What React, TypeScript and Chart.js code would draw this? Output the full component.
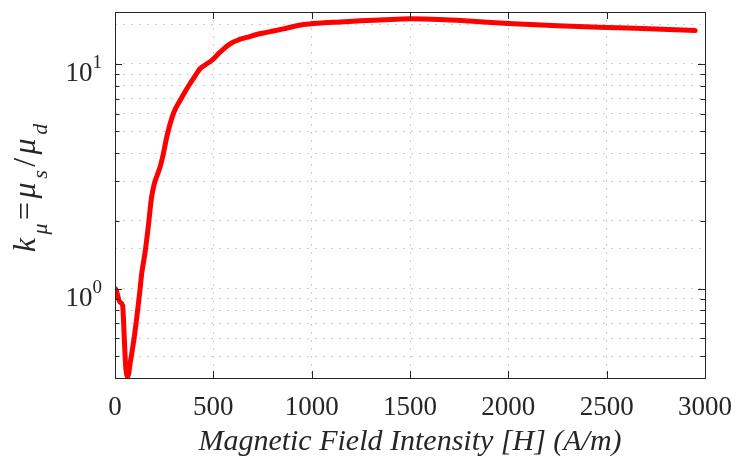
import React, { useEffect, useRef } from 'react';
import { Chart, registerables } from 'chart.js';

Chart.register(...registerables);

// Magnetic field intensity H [A/m]
const hValues = [
  0, 5, 25, 39, 44, 48, 53, 58, 64, 70, 76, 83, 97, 107, 115, 125, 136, 152, 169, 186,
  200, 215, 229, 246, 263, 280, 300, 331, 360, 381, 410, 432, 460, 492, 534, 585, 630,
  670, 720, 771, 856, 958, 1050, 1144, 1250, 1364, 1500, 1650, 1800, 2000, 2250, 2500,
  2750, 2950,
];
// k_mu = mu_s / mu_d
const kValues = [
  1.0, 0.99, 0.87, 0.84, 0.7, 0.58, 0.47, 0.42, 0.405, 0.42, 0.46, 0.5, 0.6, 0.7, 0.8,
  0.95, 1.17, 1.43, 1.88, 2.55, 2.93, 3.2, 3.47, 3.98, 4.72, 5.4, 6.1, 6.87, 7.6, 8.15,
  8.9, 9.5, 9.9, 10.35, 11.26, 12.27, 12.8, 13.1, 13.5, 13.8, 14.3, 14.95, 15.2, 15.35,
  15.55, 15.7, 15.85, 15.75, 15.5, 15.1, 14.75, 14.5, 14.3, 14.05,
];
const xTickValues = [0, 500, 1000, 1500, 2000, 2500, 3000];
const yMajorTicks = [1, 10];
const yTickExponents = ['0', '1'];
const xTitle = 'Magnetic Field Intensity [H] (A/m)';
const yTitleParts = [
  { t: 'k', sub: false, it: true },
  { t: 'μ', sub: true, it: true },
  { t: '=', sub: false, it: false },
  { t: 'μ', sub: false, it: true },
  { t: 's', sub: true, it: true },
  { t: '/', sub: false, it: false },
  { t: 'μ', sub: false, it: true },
  { t: 'd', sub: true, it: true },
];

const FONT = "'Liberation Serif', 'Times New Roman', serif";
const INK = '#262626';

export default function App() {
  const ref = useRef<HTMLCanvasElement>(null);

  useEffect(() => {
    const canvas = ref.current;
    if (!canvas) return;

    const decor = {
      id: 'decor',
      afterDraw(chart: any) {
        const { ctx, chartArea: a, scales } = chart;
        const xs = scales.x;
        const ys = scales.y;
        ctx.save();
        ctx.strokeStyle = INK;
        ctx.lineWidth = 1;
        ctx.setLineDash([]);
        ctx.beginPath();
        xs.ticks.forEach((t: any) => {
          const px = Math.round(xs.getPixelForValue(t.value)) + 0.5;
          ctx.moveTo(px, a.bottom);
          ctx.lineTo(px, a.bottom - 7);
          ctx.moveTo(px, a.top);
          ctx.lineTo(px, a.top + 7);
        });
        ys.ticks.forEach((t: any) => {
          const v = t.value;
          const e = Math.floor(Math.log10(v) + 1e-9);
          const m = v / Math.pow(10, e);
          if (Math.abs(m - Math.round(m)) > 1e-6) return;
          const len = Math.round(m) === 1 ? 7 : 4.5;
          const py = Math.round(ys.getPixelForValue(v)) + 0.5;
          ctx.moveTo(a.left, py);
          ctx.lineTo(a.left + len, py);
          ctx.moveTo(a.right, py);
          ctx.lineTo(a.right - len, py);
        });
        ctx.stroke();
        ctx.strokeRect(Math.round(a.left) + 0.5, Math.round(a.top) + 0.5,
          Math.round(a.right - a.left), Math.round(a.bottom - a.top));

        // y tick labels 10^n
        ctx.fillStyle = INK;
        ctx.textBaseline = 'alphabetic';
        ctx.textAlign = 'left';
        const baseFont = `27px ${FONT}`;
        const supFont = `19px ${FONT}`;
        yMajorTicks.forEach((v, i) => {
          const py = ys.getPixelForValue(v);
          ctx.font = supFont;
          const sw = ctx.measureText(yTickExponents[i]).width;
          ctx.font = baseFont;
          const bw = ctx.measureText('10').width;
          const right = a.left - 13;
          ctx.fillText('10', right - sw - bw, py + 17);
          ctx.font = supFont;
          ctx.fillText(yTickExponents[i], right - sw, py + 4.5);
        });

        // x title
        ctx.font = `italic 30px ${FONT}`;
        ctx.textAlign = 'center';
        ctx.fillText(xTitle, (a.left + a.right) / 2, 450);

        // y title (rotated, with subscripts)
        ctx.save();
        ctx.translate(35, 188);
        ctx.rotate(-Math.PI / 2);
        ctx.textAlign = 'left';
        const gap = 3.5;
        const fontOf = (p: any) => `${p.it ? 'italic ' : ''}${p.sub ? 22 : 32}px ${FONT}`;
        let total = 0;
        yTitleParts.forEach((p, i) => {
          ctx.font = fontOf(p);
          total += ctx.measureText(p.t).width + (i > 0 ? gap : 0);
        });
        let cx = -total / 2;
        yTitleParts.forEach((p) => {
          ctx.font = fontOf(p);
          ctx.fillText(p.t, cx, p.sub ? 12 : 0);
          cx += ctx.measureText(p.t).width + gap;
        });
        ctx.restore();
        ctx.restore();
      },
    };

    const chart = new Chart(canvas, {
      type: 'line',
      data: {
        datasets: [
          {
            data: hValues.map((h, i) => ({ x: h, y: kValues[i] })),
            borderColor: '#ff0000',
            borderWidth: 5,
            pointRadius: 0,
            cubicInterpolationMode: 'monotone',
            borderJoinStyle: 'round',
            borderCapStyle: 'round',
            fill: false,
          },
        ],
      },
      options: {
        animation: false,
        responsive: false,
        events: [],
        layout: { padding: { top: 12, right: 31, left: 0, bottom: 0 } },
        plugins: { legend: { display: false }, tooltip: { enabled: false } },
        scales: {
          x: {
            type: 'linear',
            min: 0,
            max: 3000,
            afterBuildTicks: (s: any) => {
              s.ticks = xTickValues.map((v) => ({ value: v }));
            },
            afterFit: (s: any) => {
              s.height = 84;
              s.paddingLeft = 0;
              s.paddingRight = 0;
            },
            grid: { color: '#cccccc', lineWidth: 1, drawTicks: false },
            border: { display: false, dash: [2, 6] },
            ticks: {
              autoSkip: false,
              maxRotation: 0,
              padding: 14,
              color: INK,
              font: { family: FONT, size: 27 },
              callback: (v: any) => String(v),
            },
          },
          y: {
            type: 'logarithmic',
            min: 0.4,
            max: 17,
            afterFit: (s: any) => {
              s.width = 115;
              s.paddingTop = 0;
              s.paddingBottom = 0;
            },
            grid: { color: '#cccccc', lineWidth: 1, drawTicks: false },
            border: { display: false, dash: [2, 6] },
            ticks: { display: false },
          },
        },
      },
      plugins: [decor],
    } as any);

    return () => chart.destroy();
  }, []);

  return (
    <div style={{ position: 'absolute', left: 0, top: 0, width: 736, height: 462 }}>
      <canvas ref={ref} width={736} height={462} style={{ width: 736, height: 462 }} />
    </div>
  );
}
